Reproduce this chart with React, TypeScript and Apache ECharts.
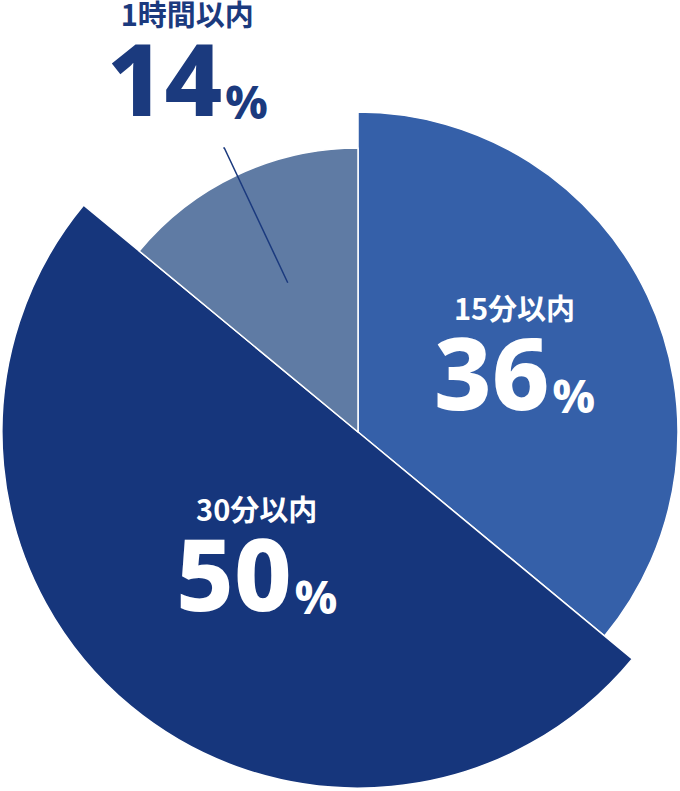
import React, { useEffect, useRef } from 'react'
import * as echarts from 'echarts'

// 所要時間の割合
const categories = ['15分以内', '30分以内', '1時間以内']
const shares = [36, 50, 14]

// 見た目の設定
const sliceColors = ['#3560a9', '#16367c', '#5f7ba4']
const outerRadius = [320, 356, 284]
const navy = '#1b3a7e'
const pieCenter = [358, 432]

const richStyle = (color: string) => ({
  t: { fontFamily: 'Noto Sans CJK JP', fontSize: 29, fontWeight: 'bold', color, lineHeight: 36, align: 'center' },
  v: { fontFamily: 'Noto Sans', fontSize: 100, fontWeight: 800, color, lineHeight: 96, verticalAlign: 'bottom' },
  p: { fontFamily: 'Noto Sans', fontSize: 46, fontWeight: 800, color, lineHeight: 96, verticalAlign: 'bottom', padding: [0, 0, 3, 3] },
})

const labelText = (p: any) => `{t|${p.name}}\n{v|${p.value}}{p|%}`

// 内側ラベルの微調整
const insideShift = [
  { dx: 9, dy: -8 },
  { dx: 14, dy: -15 },
  {},
]

export default function App() {
  const chartRef = useRef<HTMLDivElement>(null)

  useEffect(() => {
    document.body.style.margin = '0'
    if (!chartRef.current) return
    const chart = echarts.init(chartRef.current, null, { renderer: 'svg' })

    // 扇形ごとに半径が違うので1系列ずつ描く
    const sliceSeries = categories.map((_, i) => ({
      type: 'pie',
      center: pieCenter,
      radius: [0, outerRadius[i]],
      startAngle: 90,
      clockwise: true,
      silent: true,
      avoidLabelOverlap: false,
      label: { position: 'inside', formatter: labelText, rich: richStyle('#ffffff') },
      labelLine: { show: false },
      labelLayout: insideShift[i],
      data: categories.map((name, j) => ({
        name,
        value: shares[j],
        itemStyle: j === i
          ? { color: sliceColors[i], borderColor: '#ffffff', borderWidth: 1.5 }
          : { color: 'transparent', borderWidth: 0 },
        label: { show: j === i && i < 2 },
      })),
    }))

    // 1時間以内の引き出し線つきラベル
    const calloutSeries = {
      type: 'pie',
      z: 5,
      center: pieCenter,
      radius: [0, 165],
      startAngle: 90,
      clockwise: true,
      silent: true,
      avoidLabelOverlap: false,
      itemStyle: { color: 'transparent', borderWidth: 0 },
      label: { position: 'outside', formatter: labelText, rich: richStyle(navy), distanceToLabelLine: 0 },
      labelLine: { length: 149, length2: 1, lineStyle: { color: navy, width: 1.5 } },
      labelLayout: { align: 'center', verticalAlign: 'bottom', dx: -36, dy: -21 },
      data: categories.map((name, j) => ({
        name,
        value: shares[j],
        label: { show: j === 2 },
        labelLine: { show: j === 2 },
      })),
    }

    chart.setOption({
      animation: false,
      series: [...sliceSeries, calloutSeries],
    })

    return () => {
      chart.dispose()
    }
  }, [])

  return <div ref={chartRef} style={{ width: 680, height: 791 }} />
}
